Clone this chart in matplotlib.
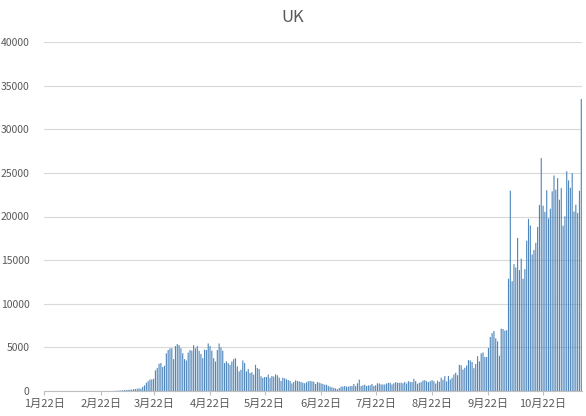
import numpy as np
import matplotlib
matplotlib.use('Agg')
import matplotlib.pyplot as plt

# --- Dados (casos diários, 22/jan a 12/nov) ---
start_date = '2020-01-22'
jan = [0, 0, 0, 0, 0, 0, 0, 0, 0, 2]
feb = [0, 0, 0, 0, 0, 1, 0, 0, 1, 4, 0, 0, 0, 0, 0, 1, 0, 0, 0, 0,
       0, 0, 0, 4, 0, 0, 2, 5, 3]
mar = [20, 30, 45, 60, 80, 100, 110, 130, 150, 170, 200, 230, 260, 300,
       260, 490, 640, 940, 1130, 1320, 1320, 1400, 2370, 2630, 3120, 3200,
       2750, 2900, 4320, 4700, 4890]
apr = [4890, 3650, 5150, 5380, 5260, 4890, 4320, 3650, 3500, 4400,
       4700, 4620, 5260, 4890, 5150, 4620, 4250, 3760, 4740, 4700,
       5450, 5150, 4620, 3760, 3380, 4700, 5450, 5000, 4620, 3200]
may = [3400, 3200, 3000, 3380, 3650, 3760, 2820, 2250, 2440, 3500,
       3200, 2250, 2520, 2070, 2150, 1880, 3000, 2630, 2520, 1690,
       1500, 1600, 1600, 1880, 1500, 1720, 1650, 1910, 1800, 1530, 1150]
jun = [1530, 1450, 1340, 1250, 1150, 880, 1030, 1220, 1150, 1110,
       1030, 950, 880, 1000, 1110, 1150, 1110, 1070, 800, 1030,
       950, 880, 800, 720, 720, 570, 500, 420, 360, 300]
jul = [190, 340, 500, 500, 570, 500, 500, 570, 570, 800,
       570, 880, 1300, 570, 650, 720, 570, 650, 650, 800,
       570, 650, 880, 860, 750, 750, 750, 860, 940, 940, 750]
aug = [890, 1015, 940, 940, 950, 890, 1050, 860, 1130, 1050,
       1015, 1390, 1130, 830, 940, 1015, 1200, 1240, 1130, 1015,
       1130, 1240, 1130, 850, 1180, 1050, 1520, 1280, 1710, 1110, 1720]
sep = [1300, 1500, 1900, 2100, 1810, 3000, 2950, 2460, 2660, 2920,
       3540, 3500, 3330, 2620, 3100, 3990, 3400, 4320, 4420, 3900,
       3900, 4930, 6180, 6630, 6870, 6040, 5690, 4040, 7140, 7110]
oct_ = [6910, 6970, 12870, 22960, 12590, 14540, 14160, 17540, 13860, 15170,
        12870, 13970, 17230, 19720, 18980, 15650, 16170, 16980, 18800, 21330,
        26690, 21240, 20530, 23010, 19790, 20890, 22890, 24700, 23070, 24400, 21920]
nov = [23250, 18950, 20020, 25180, 24140, 23290, 24960, 20570, 21350, 20410,
       22950, 33470]

cases = np.array(jan + feb + mar + apr + may + jun + jul + aug + sep + oct_ + nov)
dates = np.datetime64(start_date) + np.arange(len(cases))

tick_months = [1, 2, 3, 4, 5, 6, 7, 8, 9, 10]
tick_labels = [f'{m}月22日' for m in tick_months]
tick_pos = [int((np.datetime64(f'2020-{m:02d}-22') - dates[0]).astype(int))
            for m in tick_months]

y_ticks = [0, 5000, 10000, 15000, 20000, 25000, 30000, 35000, 40000]

# --- Figura ---
plt.rcParams['font.family'] = ['Noto Sans CJK SC', 'DejaVu Sans']
text_color = '#595959'

fig = plt.figure(figsize=(5.86, 4.16), dpi=100)
ax = fig.add_axes([43.5 / 586, 25 / 416, 538.7 / 586, 349 / 416])

x = np.arange(len(cases))
bars = ax.bar(x, cases, width=0.62, color='#4f86bb', linewidth=0)
for b in bars:
    b.set_snap(False)

ax.set_xlim(-0.5, len(cases) - 0.5)
ax.set_ylim(0, 40000)
ax.set_yticks(y_ticks)
ax.set_yticklabels([str(v) for v in y_ticks])
ax.set_xticks(tick_pos)
ax.set_xticklabels(tick_labels)

ax.yaxis.grid(True, color='#d9d9d9', linewidth=0.8)
ax.set_axisbelow(True)
for side in ['top', 'right', 'left']:
    ax.spines[side].set_visible(False)
ax.spines['bottom'].set_color('#bfbfbf')
ax.spines['bottom'].set_linewidth(0.8)

ax.tick_params(axis='y', length=0, pad=10, labelsize=7.5, labelcolor=text_color)
ax.tick_params(axis='x', length=3, color='#bfbfbf', pad=3, labelsize=8,
               labelcolor=text_color)

fig.text(0.5, 1 - 17 / 416, 'UK', ha='center', va='center', fontsize=12,
         color=text_color)

fig.savefig('out.png', dpi=100)
